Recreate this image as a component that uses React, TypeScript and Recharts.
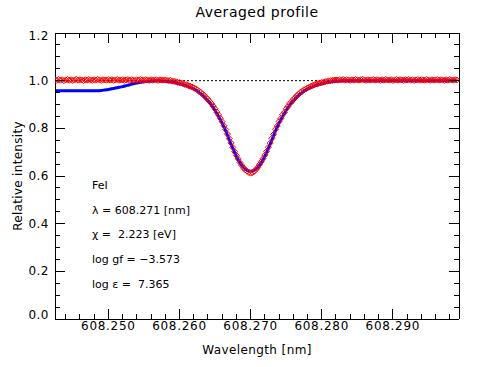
import { ComposedChart, Line, Scatter, XAxis, YAxis, ReferenceLine } from "recharts";

// Averaged Fe I 608.27 nm line profile: observed points (red) and fit (blue).

// fit grid
const WAVELENGTH = [
  608.2425, 608.243, 608.2435, 608.244, 608.2445, 608.245, 608.2455, 608.246, 608.2465, 608.247,
  608.2475, 608.248, 608.2485, 608.249, 608.2495, 608.25, 608.2505, 608.251, 608.2515, 608.252,
  608.2525, 608.253, 608.2535, 608.254, 608.2545, 608.255, 608.2555, 608.256, 608.2565, 608.257,
  608.2575, 608.258, 608.2585, 608.259, 608.2595, 608.26, 608.2605, 608.261, 608.2615, 608.262,
  608.2625, 608.263, 608.2635, 608.264, 608.2645, 608.265, 608.2655, 608.266, 608.2665, 608.267,
  608.2675, 608.268, 608.2685, 608.269, 608.2695, 608.27, 608.2705, 608.271, 608.2715, 608.272,
  608.2725, 608.273, 608.2735, 608.274, 608.2745, 608.275, 608.2755, 608.276, 608.2765, 608.277,
  608.2775, 608.278, 608.2785, 608.279, 608.2795, 608.28, 608.2805, 608.281, 608.2815, 608.282,
  608.2825, 608.283, 608.2835, 608.284, 608.2845, 608.285, 608.2855, 608.286, 608.2865, 608.287,
  608.2875, 608.288, 608.2885, 608.289, 608.2895, 608.29, 608.2905, 608.291, 608.2915, 608.292,
  608.2925, 608.293, 608.2935, 608.294, 608.2945, 608.295, 608.2955, 608.296, 608.2965, 608.297,
  608.2975, 608.298, 608.2985, 608.299,
];

const FIT = [
  0.958, 0.958, 0.958, 0.958, 0.958, 0.958, 0.958, 0.958, 0.958, 0.958,
  0.958, 0.958, 0.958, 0.959, 0.961, 0.963, 0.966, 0.969, 0.972, 0.975,
  0.979, 0.983, 0.987, 0.99, 0.993, 0.995, 0.997, 0.999, 1.0, 1.0,
  0.999, 0.998, 0.996, 0.994, 0.991, 0.987, 0.983, 0.978, 0.972, 0.965,
  0.956, 0.945, 0.931, 0.915, 0.897, 0.875, 0.85, 0.822, 0.79, 0.752,
  0.716, 0.683, 0.656, 0.636, 0.624, 0.62, 0.624, 0.636, 0.656, 0.683,
  0.716, 0.752, 0.79, 0.822, 0.85, 0.875, 0.897, 0.915, 0.931, 0.945,
  0.956, 0.965, 0.972, 0.978, 0.983, 0.987, 0.991, 0.994, 0.996, 0.998,
  0.999, 1.0, 1.0, 1.0, 1.0, 1.0, 1.0, 1.0, 1.0, 1.0,
  1.0, 1.0, 1.0, 1.0, 1.0, 1.0, 1.0, 1.0, 1.0, 1.0,
  1.0, 1.0, 1.0, 1.0, 1.0, 1.0, 1.0, 1.0, 1.0, 1.0,
  1.0, 1.0, 1.0, 1.0,
];

// observed samples
const WAVELENGTH_OBS = [
  608.2425, 608.24275, 608.243, 608.24325, 608.2435, 608.24375, 608.244, 608.24425,
  608.2445, 608.24475, 608.245, 608.24525, 608.2455, 608.24575, 608.246, 608.24625,
  608.2465, 608.24675, 608.247, 608.24725, 608.2475, 608.24775, 608.248, 608.24825,
  608.2485, 608.24875, 608.249, 608.24925, 608.2495, 608.24975, 608.25, 608.25025,
  608.2505, 608.25075, 608.251, 608.25125, 608.2515, 608.25175, 608.252, 608.25225,
  608.2525, 608.25275, 608.253, 608.25325, 608.2535, 608.25375, 608.254, 608.25425,
  608.2545, 608.25475, 608.255, 608.25525, 608.2555, 608.25575, 608.256, 608.25625,
  608.2565, 608.25675, 608.257, 608.25725, 608.2575, 608.25775, 608.258, 608.25825,
  608.2585, 608.25875, 608.259, 608.25925, 608.2595, 608.25975, 608.26, 608.26025,
  608.2605, 608.26075, 608.261, 608.26125, 608.2615, 608.26175, 608.262, 608.26225,
  608.2625, 608.26275, 608.263, 608.26325, 608.2635, 608.26375, 608.264, 608.26425,
  608.2645, 608.26475, 608.265, 608.26525, 608.2655, 608.26575, 608.266, 608.26625,
  608.2665, 608.26675, 608.267, 608.26725, 608.2675, 608.26775, 608.268, 608.26825,
  608.2685, 608.26875, 608.269, 608.26925, 608.2695, 608.26975, 608.27, 608.27025,
  608.2705, 608.27075, 608.271, 608.27125, 608.2715, 608.27175, 608.272, 608.27225,
  608.2725, 608.27275, 608.273, 608.27325, 608.2735, 608.27375, 608.274, 608.27425,
  608.2745, 608.27475, 608.275, 608.27525, 608.2755, 608.27575, 608.276, 608.27625,
  608.2765, 608.27675, 608.277, 608.27725, 608.2775, 608.27775, 608.278, 608.27825,
  608.2785, 608.27875, 608.279, 608.27925, 608.2795, 608.27975, 608.28, 608.28025,
  608.2805, 608.28075, 608.281, 608.28125, 608.2815, 608.28175, 608.282, 608.28225,
  608.2825, 608.28275, 608.283, 608.28325, 608.2835, 608.28375, 608.284, 608.28425,
  608.2845, 608.28475, 608.285, 608.28525, 608.2855, 608.28575, 608.286, 608.28625,
  608.2865, 608.28675, 608.287, 608.28725, 608.2875, 608.28775, 608.288, 608.28825,
  608.2885, 608.28875, 608.289, 608.28925, 608.2895, 608.28975, 608.29, 608.29025,
  608.2905, 608.29075, 608.291, 608.29125, 608.2915, 608.29175, 608.292, 608.29225,
  608.2925, 608.29275, 608.293, 608.29325, 608.2935, 608.29375, 608.294, 608.29425,
  608.2945, 608.29475, 608.295, 608.29525, 608.2955, 608.29575, 608.296, 608.29625,
  608.2965, 608.29675, 608.297, 608.29725, 608.2975, 608.29775, 608.298, 608.29825,
  608.2985, 608.29875, 608.299,
];

const OBSERVED = [
  1.003, 1.001, 1.005, 1.002, 1.004, 1.0, 1.003, 1.005, 1.002, 1.004,
  1.001, 1.003, 1.006, 1.002, 1.004, 1.003, 1.0, 1.004, 1.002, 1.005,
  1.003, 1.001, 1.004, 1.002, 1.006, 1.003, 1.001, 1.004, 1.003, 1.002,
  1.005, 1.002, 1.004, 1.001, 1.003, 1.005, 1.002, 1.003, 1.004, 1.001,
  1.003, 1.005, 1.002, 1.004, 1.003, 1.001, 1.004, 1.002, 1.005, 1.003,
  1.002, 1.004, 1.003, 1.001, 1.004, 1.002, 1.003, 1.004, 1.001, 1.003,
  1.003, 1.002, 1.003, 1.001, 1.0, 1.001, 0.998, 0.997, 0.996, 0.993,
  0.992, 0.99, 0.988, 0.984, 0.983, 0.979, 0.977, 0.974, 0.97, 0.966,
  0.962, 0.955, 0.951, 0.944, 0.938, 0.929, 0.922, 0.913, 0.904, 0.893,
  0.882, 0.868, 0.856, 0.842, 0.828, 0.811, 0.795, 0.776, 0.757, 0.739,
  0.72, 0.702, 0.686, 0.672, 0.657, 0.645, 0.634, 0.626, 0.62, 0.615,
  0.612, 0.614, 0.619, 0.627, 0.636, 0.648, 0.66, 0.673, 0.688, 0.703,
  0.721, 0.738, 0.758, 0.775, 0.796, 0.81, 0.829, 0.841, 0.857, 0.867,
  0.882, 0.892, 0.904, 0.911, 0.922, 0.928, 0.938, 0.943, 0.951, 0.955,
  0.962, 0.965, 0.97, 0.973, 0.977, 0.98, 0.983, 0.986, 0.988, 0.99,
  0.992, 0.994, 0.996, 0.997, 0.999, 1.0, 1.001, 1.002, 1.003, 1.002,
  1.004, 1.003, 1.005, 1.002, 1.004, 1.003, 1.001, 1.004, 1.002, 1.005,
  1.003, 1.002, 1.004, 1.006, 1.003, 1.001, 1.004, 1.002, 1.003, 1.005,
  1.002, 1.004, 1.003, 1.001, 1.004, 1.002, 1.005, 1.003, 1.002, 1.004,
  1.001, 1.003, 1.005, 1.002, 1.004, 1.003, 1.001, 1.004, 1.003, 1.005,
  1.002, 1.004, 1.001, 1.003, 1.005, 1.002, 1.004, 1.003, 1.002, 1.005,
  1.003, 1.001, 1.004, 1.002, 1.003, 1.005, 1.002, 1.004, 1.003, 1.001,
  1.004, 1.002, 1.005, 1.003, 1.002, 1.004, 1.003,
];

const X_TICKS = [
  608.244, 608.246, 608.248, 608.25, 608.252, 608.254, 608.256, 608.258, 608.26, 608.262,
  608.264, 608.266, 608.268, 608.27, 608.272, 608.274, 608.276, 608.278, 608.28, 608.282,
  608.284, 608.286, 608.288, 608.29, 608.292, 608.294, 608.296, 608.298,
];
const X_MAJOR = [608.25, 608.26, 608.27, 608.28, 608.29];
const Y_TICKS = [
  0, 0.05, 0.1, 0.15, 0.2, 0.25, 0.3, 0.35, 0.4, 0.45, 0.5, 0.55, 0.6,
  0.65, 0.7, 0.75, 0.8, 0.85, 0.9, 0.95, 1.0, 1.05, 1.1, 1.15, 1.2,
];
const Y_MAJOR = [0, 0.2, 0.4, 0.6, 0.8, 1.0, 1.2];
const CONTINUUM = 1.0;

const LINE_INFO = [
  "FeI",
  "λ = 608.271 [nm]",
  "χ =  2.223 [eV]",
  "log gf = −3.573",
  "log ε =  7.365",
];

const FONT = "DejaVu Sans";
const X_DOMAIN: [number, number] = [608.2425, 608.2993];
const Y_DOMAIN: [number, number] = [0, 1.2];

const isMajor = (v: number, list: number[]) => list.some((m) => Math.abs(m - v) < 1e-7);

function BottomTick(p: any) {
  const v = p.payload.value;
  const major = isMajor(v, X_MAJOR);
  return (
    <g>
      <line x1={p.x} x2={p.x} y1={p.y} y2={p.y - (major ? 10 : 5)} stroke="#000" shapeRendering="crispEdges" />
      {major && (
        <text x={p.x} y={p.y + 11} textAnchor="middle" fontSize={12} letterSpacing={0.7} fontFamily={FONT} fill="#000">
          {v.toFixed(3)}
        </text>
      )}
    </g>
  );
}

function TopTick(p: any) {
  const major = isMajor(p.payload.value, X_MAJOR);
  return <line x1={p.x} x2={p.x} y1={p.y} y2={p.y + (major ? 10 : 5)} stroke="#000" shapeRendering="crispEdges" />;
}

function LeftTick(p: any) {
  const v = p.payload.value;
  const major = isMajor(v, Y_MAJOR);
  // IDL nudges the end labels inside the axis range
  const shift = v === Y_DOMAIN[1] ? 3 : v === Y_DOMAIN[0] ? -4 : 0;
  return (
    <g>
      <line x1={p.x} x2={p.x + (major ? 10 : 5)} y1={p.y} y2={p.y} stroke="#000" shapeRendering="crispEdges" />
      {major && (
        <text x={p.x - 6} y={p.y + 4 + shift} textAnchor="end" fontSize={12} letterSpacing={0.5} fontFamily={FONT} fill="#000">
          {v.toFixed(1)}
        </text>
      )}
    </g>
  );
}

function RightTick(p: any) {
  const major = isMajor(p.payload.value, Y_MAJOR);
  return <line x1={p.x} x2={p.x - (major ? 10 : 5)} y1={p.y} y2={p.y} stroke="#000" shapeRendering="crispEdges" />;
}

function Diamond(p: any) {
  const { cx, cy } = p;
  const r = 3;
  return (
    <polygon
      points={`${cx},${cy - r} ${cx + r},${cy} ${cx},${cy + r} ${cx - r},${cy}`}
      fill="none"
      stroke="#ff0000"
      strokeWidth={1}
    />
  );
}

export default function App() {
  const fitRows = WAVELENGTH.map((w, i) => ({ w, fit: FIT[i] }));
  const obsRows = WAVELENGTH_OBS.map((w, i) => ({ w, obs: OBSERVED[i] }));
  const axisLine = { stroke: "#000", shapeRendering: "crispEdges" };
  return (
    <div style={{ position: "absolute", left: 0, top: 0, width: 498, height: 367, background: "#fff" }}>
      <ComposedChart width={498} height={367} data={fitRows} margin={{ top: 32, right: 38, bottom: 0, left: 0 }}>
        <XAxis
          dataKey="w"
          type="number"
          domain={X_DOMAIN}
          allowDataOverflow
          ticks={X_TICKS}
          interval={0}
          height={48}
          tickSize={0}
          tickMargin={0}
          tickLine={false}
          axisLine={axisLine}
          tick={BottomTick}
        />
        <XAxis
          xAxisId="top"
          orientation="top"
          dataKey="w"
          type="number"
          domain={X_DOMAIN}
          allowDataOverflow
          ticks={X_TICKS}
          interval={0}
          height={1}
          tickSize={0}
          tickMargin={0}
          tickLine={false}
          axisLine={axisLine}
          tick={TopTick}
        />
        <YAxis
          type="number"
          domain={Y_DOMAIN}
          allowDataOverflow
          ticks={Y_TICKS}
          interval={0}
          width={55}
          tickSize={0}
          tickMargin={0}
          tickLine={false}
          axisLine={axisLine}
          tick={LeftTick}
        />
        <YAxis
          yAxisId="right"
          orientation="right"
          type="number"
          domain={Y_DOMAIN}
          allowDataOverflow
          ticks={Y_TICKS}
          interval={0}
          width={1}
          tickSize={0}
          tickMargin={0}
          tickLine={false}
          axisLine={axisLine}
          tick={RightTick}
        />
        <ReferenceLine y={CONTINUUM} stroke="#000" strokeDasharray="2 2" />
        <Scatter data={obsRows} dataKey="obs" shape={Diamond} isAnimationActive={false} />
        <Line dataKey="fit" type="monotone" stroke="#0000ff" strokeWidth={3} dot={false} isAnimationActive={false} />
        <Line
          xAxisId="top"
          yAxisId="right"
          dataKey="fit"
          stroke="none"
          dot={false}
          activeDot={false}
          isAnimationActive={false}
        />
      </ComposedChart>
      <svg
        width={498}
        height={367}
        style={{ position: "absolute", left: 0, top: 0, pointerEvents: "none" }}
        fontFamily={FONT}
        fill="#000"
      >
        <text x={257} y={17} textAnchor="middle" fontSize={14} letterSpacing={0.5}>
          Averaged profile
        </text>
        <text x={257} y={354} textAnchor="middle" fontSize={12} letterSpacing={0.4}>
          Wavelength [nm]
        </text>
        <text x={22} y={176} textAnchor="middle" fontSize={12} letterSpacing={0.3} transform="rotate(-90 22 176)">
          Relative intensity
        </text>
        {LINE_INFO.map((t, i) => (
          <text key={t} x={92} y={189 + i * 24.7} fontSize={11} style={{ whiteSpace: "pre" }}>
            {t}
          </text>
        ))}
      </svg>
    </div>
  );
}
